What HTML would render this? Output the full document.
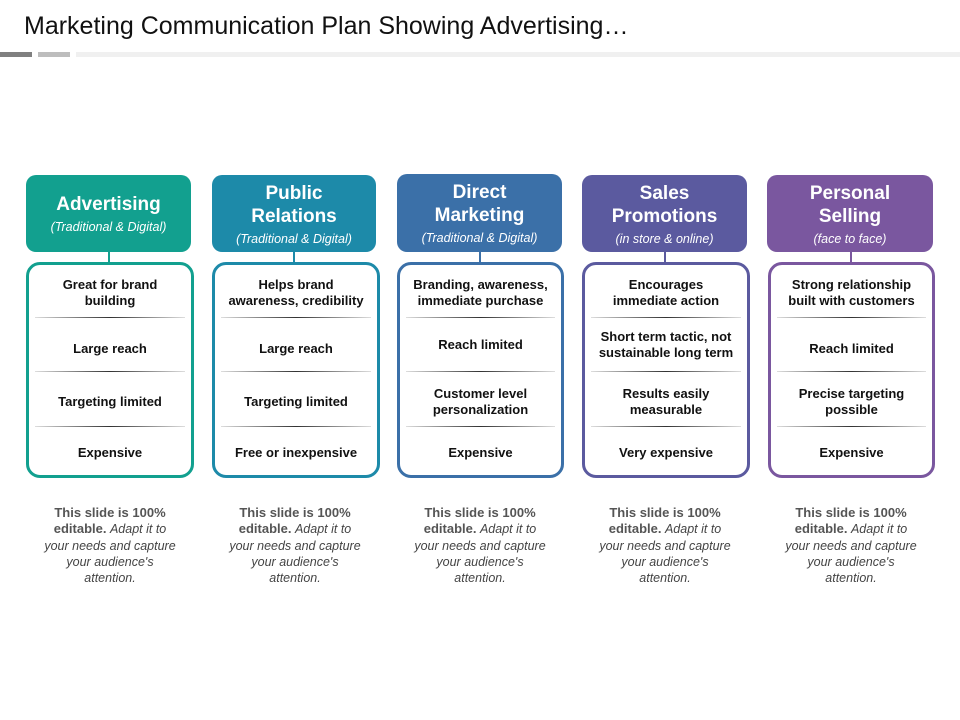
<!DOCTYPE html>
<html><head><style>
body{margin:0;width:960px;height:720px;background:#fff;font-family:"Liberation Sans",Arial,sans-serif;position:relative;overflow:hidden}
.title{position:absolute;left:24px;top:12px;font-size:25px;color:#111}
.bar{position:absolute;top:52px;height:5px}
.h{position:absolute;top:175px;height:77px;border-radius:10px;color:#fff;text-align:center;display:flex;flex-direction:column;justify-content:center}
.h b{font-size:19px;line-height:23px}
.h i{font-size:12.5px;margin-top:4px}
.c{position:absolute;top:251px;width:2px;height:12px}
.b{position:absolute;top:262px;height:210px;border:3px solid;border-radius:14px;background:#fff}
.r{position:absolute;left:4px;right:4px;height:40px;text-align:center;font-weight:bold;font-size:13px;line-height:16px;color:#111;display:flex;align-items:center;justify-content:center}
.r1{top:8px}.r2{top:64px}.r3{top:117px}.r4{top:168px}
.s{position:absolute;left:6px;right:6px;height:1px;background:linear-gradient(90deg,#ddd,#333 50%,#ddd)}
.s1{top:52px}.s2{top:106px}.s3{top:161px}
.n{position:absolute;top:505px;width:138px;text-align:center;font-size:12.5px;line-height:16.3px;color:#444}
.n b{color:#555;font-size:13px}
</style></head><body>
<div class="title">Marketing Communication Plan Showing Advertising…</div>
<div class="bar" style="left:0;width:32px;background:#808080"></div>
<div class="bar" style="left:38px;width:32px;background:#bdbdbd"></div>
<div class="bar" style="left:76px;width:884px;background:#f0f0f0"></div>

<div class="h" style="left:26px;width:165px;background:#12a08f"><b>Advertising</b><i>(Traditional &amp; Digital)</i></div>
<div class="h" style="left:212px;width:164px;background:#1d8aa9"><b>Public<br>Relations</b><i>(Traditional &amp; Digital)</i></div>
<div class="h" style="left:397px;width:165px;top:174px;height:78px;background:#3b70a8"><b>Direct<br>Marketing</b><i>(Traditional &amp; Digital)</i></div>
<div class="h" style="left:582px;width:165px;background:#5b5a9f"><b>Sales<br>Promotions</b><i>(in store &amp; online)</i></div>
<div class="h" style="left:767px;width:166px;background:#7a579f"><b>Personal<br>Selling</b><i>(face to face)</i></div>

<div class="c" style="left:108px;background:#12a08f"></div>
<div class="c" style="left:293px;background:#1d8aa9"></div>
<div class="c" style="left:479px;background:#3b70a8"></div>
<div class="c" style="left:664px;background:#5b5a9f"></div>
<div class="c" style="left:850px;background:#7a579f"></div>

<div class="b" style="left:26px;width:162px;border-color:#12a08f">
<div class="r r1">Great for brand<br>building</div><div class="s s1"></div>
<div class="r r2">Large reach</div><div class="s s2"></div>
<div class="r r3">Targeting limited</div><div class="s s3"></div>
<div class="r r4">Expensive</div></div>

<div class="b" style="left:212px;width:162px;border-color:#1d8aa9">
<div class="r r1">Helps brand<br>awareness, credibility</div><div class="s s1"></div>
<div class="r r2">Large reach</div><div class="s s2"></div>
<div class="r r3">Targeting limited</div><div class="s s3"></div>
<div class="r r4">Free or inexpensive</div></div>

<div class="b" style="left:397px;width:161px;border-color:#3b70a8">
<div class="r r1">Branding, awareness,<br>immediate purchase</div><div class="s s1"></div>
<div class="r r2" style="top:60px">Reach limited</div><div class="s s2"></div>
<div class="r r3">Customer level<br>personalization</div><div class="s s3"></div>
<div class="r r4">Expensive</div></div>

<div class="b" style="left:582px;width:162px;border-color:#5b5a9f">
<div class="r r1">Encourages<br>immediate action</div><div class="s s1"></div>
<div class="r r2" style="top:60px">Short term tactic, not<br>sustainable long term</div><div class="s s2"></div>
<div class="r r3">Results easily<br>measurable</div><div class="s s3"></div>
<div class="r r4">Very expensive</div></div>

<div class="b" style="left:768px;width:161px;border-color:#7a579f">
<div class="r r1">Strong relationship<br>built with customers</div><div class="s s1"></div>
<div class="r r2">Reach limited</div><div class="s s2"></div>
<div class="r r3">Precise targeting<br>possible</div><div class="s s3"></div>
<div class="r r4">Expensive</div></div>

<div class="n" style="left:41px"><b>This slide is 100% editable.</b> <i>Adapt it to your needs and capture your audience's attention.</i></div>
<div class="n" style="left:226px"><b>This slide is 100% editable.</b> <i>Adapt it to your needs and capture your audience's attention.</i></div>
<div class="n" style="left:411px"><b>This slide is 100% editable.</b> <i>Adapt it to your needs and capture your audience's attention.</i></div>
<div class="n" style="left:596px"><b>This slide is 100% editable.</b> <i>Adapt it to your needs and capture your audience's attention.</i></div>
<div class="n" style="left:782px"><b>This slide is 100% editable.</b> <i>Adapt it to your needs and capture your audience's attention.</i></div>
</body></html>
